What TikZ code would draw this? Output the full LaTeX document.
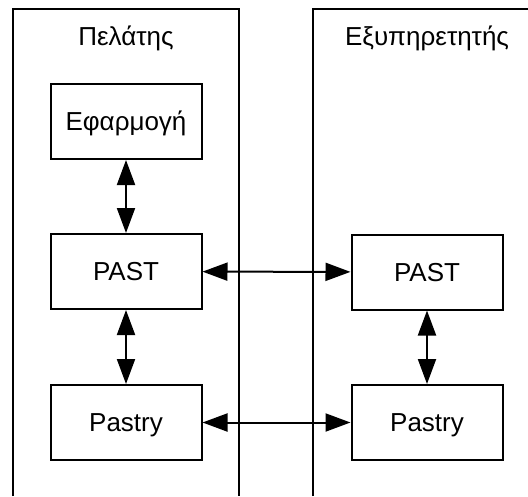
\documentclass[tikz,border=0pt]{standalone}
\usepackage{fontspec}
\setmainfont{Liberation Sans}
\usetikzlibrary{arrows.meta}

\begin{document}
\begin{tikzpicture}[x=1pt, y=-1pt, line width=2pt,
    font=\fontsize{26}{31}\selectfont,
    layer/.style={draw, minimum width=151pt, minimum height=75pt,
        text height=18.5pt, text depth=0pt, inner sep=0pt},
    title/.style={anchor=base, inner sep=0pt},
    link/.style={{Triangle[length=25pt,width=18pt]}-{Triangle[length=25pt,width=18pt]}}]
    \useasboundingbox (0,0) rectangle (528,496);
    % columns
    \draw (13,496) -- (13,9) -- (239,9) -- (239,496);
    \draw (313,496) -- (313,9) -- (528,9);
    \node[title] (client) at (126,45) {Πελάτης};
    \node[title] (server) at (427,45) {Εξυπηρετητής};
    % client side
    \node[layer] (app) at (126,121.5) {Εφαρμογή};
    \node[layer] (cpast) at (126,271.5) {PAST};
    \node[layer] (cpastry) at (126,422.5) {Pastry};
    % server side
    \node[layer] (spast) at (427,272) {PAST};
    \node[layer] (spastry) at (427,422.5) {Pastry};
    \draw[link] (app) -- (cpast);
    \draw[link] (cpast) -- (cpastry);
    \draw[link] (spast) -- (spastry);
    \draw[link] (cpast) -- (spast);
    \draw[link] (cpastry) -- (spastry);
\end{tikzpicture}
\end{document}
